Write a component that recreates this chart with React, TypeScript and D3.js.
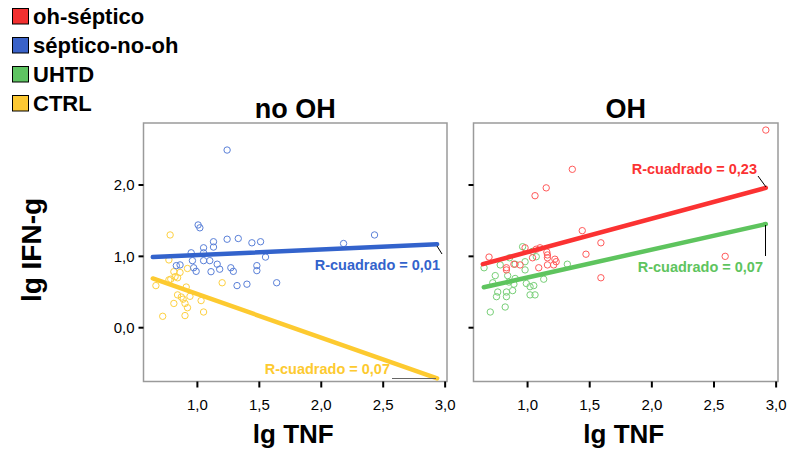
import React from "react";
import * as d3 from "d3";

const legendLabels = ["oh-séptico", "séptico-no-oh", "UHTD", "CTRL"];
const legendColors = ["#f23030", "#3a62c8", "#5ec462", "#fcc832"];
const panelTitles = ["no OH", "OH"];
const xTicks = [1.0, 1.5, 2.0, 2.5, 3.0];
const yTicks = [0.0, 1.0, 2.0];

// no OH panel
const septicoNoOh: [number, number][] = [
  [1.24, 2.49], [1.006, 1.44], [1.02, 1.4], [1.13, 1.205], [1.24, 1.24], [1.33, 1.25],
  [1.44, 1.19], [1.51, 1.205], [1.05, 1.12], [1.13, 1.13], [0.95, 1.05], [1.05, 1.05],
  [1.55, 0.99], [2.43, 1.3], [2.18, 1.18], [0.96, 0.94], [1.05, 0.94], [1.1, 0.94],
  [1.16, 0.89], [0.83, 0.87], [0.86, 0.88], [0.97, 0.84], [0.99, 0.79], [1.18, 0.82],
  [1.27, 0.84], [1.29, 0.79], [1.48, 0.87], [1.48, 0.8], [1.11, 0.785], [1.32, 0.59],
  [1.4, 0.61], [1.64, 0.63],
];
const ctrl: [number, number][] = [
  [0.78, 1.3], [0.77, 0.95], [0.92, 0.83], [0.81, 0.785], [0.86, 0.775], [0.82, 0.715],
  [0.84, 0.7], [0.785, 0.68], [0.77, 0.67], [0.665, 0.59], [1.2, 0.63], [0.91, 0.57],
  [0.84, 0.46], [0.87, 0.43], [0.885, 0.4], [0.94, 0.44], [1.03, 0.38], [0.81, 0.34],
  [0.9, 0.34], [0.92, 0.28], [1.05, 0.22], [0.9, 0.17], [0.72, 0.16],
];
// OH panel
const ohSeptico: [number, number][] = [
  [1.36, 2.22], [1.15, 1.96], [1.06, 1.85], [1.44, 1.36], [1.59, 1.19], [1.47, 1.03],
  [0.98, 1.12], [1.1, 1.12], [1.155, 1.06], [1.16, 1.02], [0.69, 0.99], [2.917, 2.77],
  [2.59, 1.0], [1.07, 1.1], [1.16, 0.98], [1.22, 0.96], [1.23, 0.925], [1.21, 0.88],
  [1.16, 0.88], [1.09, 0.84], [1.04, 0.98], [0.94, 0.88], [0.89, 0.89], [0.83, 0.84],
  [0.83, 0.81], [1.59, 0.7],
];
const uhtd: [number, number][] = [
  [0.96, 1.135], [0.855, 0.98], [0.65, 0.84], [0.78, 0.88], [0.9, 0.89], [0.98, 0.925],
  [1.07, 0.995], [1.04, 1.07], [0.98, 0.81], [1.32, 0.89], [0.84, 0.73], [0.74, 0.73],
  [0.9, 0.69], [1.13, 0.68], [0.72, 0.63], [0.85, 0.64], [0.89, 0.61], [0.99, 0.62],
  [1.05, 0.59], [1.02, 0.575], [0.76, 0.5], [0.83, 0.5], [0.88, 0.52], [0.75, 0.435],
  [0.83, 0.435], [1.02, 0.46], [1.06, 0.46], [0.82, 0.29], [0.7, 0.22],
];

// fit line endpoints
const fitSepticoNoOh: [number, number][] = [[0.64, 0.99], [2.935, 1.17]];
const fitCtrl: [number, number][] = [[0.64, 0.69], [2.935, -0.71]];
const fitOhSeptico: [number, number][] = [[0.64, 0.89], [2.917, 1.96]];
const fitUhtd: [number, number][] = [[0.648, 0.566], [2.917, 1.453]];
const rLabels = ["R-cuadrado = 0,01", "R-cuadrado = 0,07", "R-cuadrado = 0,23", "R-cuadrado = 0,07"];

const FONT = "Arial, 'Liberation Sans', Helvetica, sans-serif";
const pointColors = ["#ff5a5a", "#5a80d8", "#78cf78", "#fdd040"];
const lineColors = ["#fb3232", "#3363cc", "#5ec45e", "#fdca30"];

const W = 790, H = 452;
const top = 123, bottom = 381.5;
const panelsX = [[143.5, 447], [473.5, 778]];
const xDomain: [number, number] = [0.565, 3.015];
const yDomain: [number, number] = [-0.754, 2.869];
const fmt = (v: number) => v.toFixed(1).replace(".", ",");

function Panel({ idx, series }: { idx: number; series: { pts: [number, number][]; fit: [number, number][]; c: number }[] }) {
  const [x0, x1] = panelsX[idx];
  const x = d3.scaleLinear().domain(xDomain).range([x0, x1]);
  const y = d3.scaleLinear().domain(yDomain).range([bottom, top]);
  const line = d3.line<[number, number]>().x((d) => x(d[0])).y((d) => y(d[1]));
  return (
    <g>
      <rect x={x0} y={top} width={x1 - x0} height={bottom - top} fill="#fff" stroke="#9a9a9a" strokeWidth={1.5} />
      {yTicks.map((t) => (
        <g key={"y" + t}>
          <line x1={x0 - 5} x2={x0} y1={y(t)} y2={y(t)} stroke="#000" strokeWidth={2} />
          {idx === 0 && (
            <text x={x0 - 9} y={y(t)} dy="0.35em" textAnchor="end" fontSize={15} fontFamily={FONT}>
              {fmt(t)}
            </text>
          )}
        </g>
      ))}
      {xTicks.map((t) => (
        <g key={"x" + t}>
          <line x1={x(t)} x2={x(t)} y1={bottom} y2={bottom + 6} stroke="#000" strokeWidth={2} />
          <text x={x(t)} y={bottom + 28} textAnchor="middle" fontSize={15} fontFamily={FONT}>
            {fmt(t)}
          </text>
        </g>
      ))}
      {series.map((s, i) => (
        <g key={"s" + i}>
          {s.pts.map((p, j) => (
            <circle key={j} cx={x(p[0])} cy={y(p[1])} r={3.2} fill="none" stroke={pointColors[s.c]} strokeWidth={1} />
          ))}
        </g>
      ))}
      {series.map((s, i) => (
        <path key={"l" + i} d={line(s.fit) || ""} fill="none" stroke={lineColors[s.c]} strokeWidth={4.5} strokeLinecap="round" />
      ))}
      <text x={(x0 + x1) / 2} y={118} textAnchor="middle" fontSize={27} fontWeight="bold" fontFamily={FONT}>
        {panelTitles[idx]}
      </text>
      <text x={(x0 + x1) / 2 - 2} y={443} textAnchor="middle" fontSize={26} fontWeight="bold" fontFamily={FONT}>
        lg TNF
      </text>
    </g>
  );
}

export default function App() {
  return (
    <svg width={W} height={H} style={{ position: "absolute", left: 0, top: 0, background: "#fff" }}>
      {legendLabels.map((l, i) => (
        <g key={l}>
          <rect x={12.5} y={8.5 + i * 29} width={16} height={15.5} fill={legendColors[i]} stroke="#000" strokeWidth={1} />
          <text x={33} y={24 + i * 29} fontSize={22} fontWeight="bold" fontFamily={FONT}>
            {l}
          </text>
        </g>
      ))}
      <text transform="translate(41,250) rotate(-90)" textAnchor="middle" fontSize={28} fontWeight="bold" fontFamily={FONT}>
        lg IFN-g
      </text>
      <Panel
        idx={0}
        series={[
          { pts: ctrl, fit: fitCtrl, c: 3 },
          { pts: septicoNoOh, fit: fitSepticoNoOh, c: 1 },
        ]}
      />
      <Panel
        idx={1}
        series={[
          { pts: uhtd, fit: fitUhtd, c: 2 },
          { pts: ohSeptico, fit: fitOhSeptico, c: 0 },
        ]}
      />
      {/* R-squared annotations */}
      <g fontFamily={FONT} fontWeight="bold" fontSize={14.5}>
        <text x={440} y={270} textAnchor="end" fill={lineColors[1]}>{rLabels[0]}</text>
        <text x={390} y={374} textAnchor="end" fill={lineColors[3]}>{rLabels[1]}</text>
        <text x={757} y={174} textAnchor="end" fill={lineColors[0]}>{rLabels[2]}</text>
        <text x={763} y={272} textAnchor="end" fill={lineColors[2]}>{rLabels[3]}</text>
      </g>
      <line x1={437} y1={246} x2={442} y2={254} stroke="#000" strokeWidth={1} />
      <line x1={392} y1={378.5} x2={436} y2={378.5} stroke="#666" strokeWidth={1} />
      <line x1={758} y1={176} x2={766} y2={187} stroke="#000" strokeWidth={1} />
      <line x1={765.5} y1={225} x2={765.5} y2={256} stroke="#000" strokeWidth={1} />
    </svg>
  );
}
